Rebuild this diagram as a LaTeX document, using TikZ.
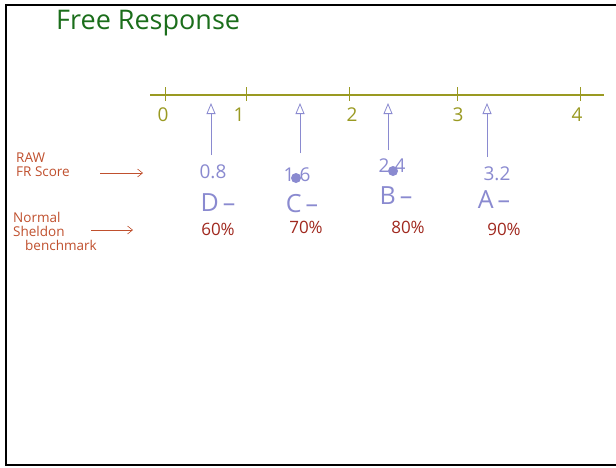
\documentclass[tikz,border=0pt]{standalone}
\usepackage{fontspec}
\setmainfont{Open Sans}
\usetikzlibrary{arrows.meta}
\definecolor{titlegreen}{HTML}{1B6E1B}
\definecolor{olive}{HTML}{9A9A22}
\definecolor{lav}{HTML}{8A8AD0}
\definecolor{pctred}{HTML}{A0281E}
\definecolor{lblred}{HTML}{C0502E}
\tikzset{
  frame/.style={draw=black, line width=2pt},
  axis/.style={draw=olive, line width=1.3pt},
  tick/.style={draw=olive, line width=0.8pt},
  ticklbl/.style={text=olive, font=\fontsize{19}{19}\selectfont, inner sep=0pt},
  uparrow/.style={draw=lav, line width=0.8pt, -{Triangle[open, length=11pt, width=9pt]}},
  val/.style={text=lav, font=\fontsize{19}{19}\selectfont, inner sep=0pt},
  grade/.style={text=lav, font=\fontsize{25}{25}\selectfont, inner sep=0pt},
  pct/.style={text=pctred, font=\fontsize{17}{17}\selectfont, inner sep=0pt},
  lbl/.style={text=lblred, font=\fontsize{13.5}{14}\selectfont, inner sep=0pt, align=left},
  lblarrow/.style={draw=lblred, line width=0.6pt, -{Straight Barb[length=5pt, width=8pt]}},
  dotmark/.style={circle, fill=lav, inner sep=0pt, minimum size=10pt},
}
\begin{document}
\begin{tikzpicture}[x=1pt, y=-1pt]
\useasboundingbox (0,0) rectangle (616,467);
\fill[white] (0,0) rectangle (616,467);
\draw[frame] (616,5) -- (6,5) -- (6,465) -- (616,465);
\node[text=titlegreen, font=\fontsize{27}{27}\selectfont, anchor=west, inner sep=0pt] (title) at (56,23) {Free Response};
% number line
\coordinate (axL) at (150,95);
\coordinate (axR) at (604,95);
\draw[axis] (axL) -- (axR);
\foreach \n/\x/\lx in {0/165/163, 1/246/239, 2/349/352, 3/457/458, 4/580/577}{
  \draw[tick] (\x,87) -- (\x,101);
  \node[ticklbl] (t\n) at (\lx,115) {\n};
}
% up arrows
\foreach \i/\x/\yb in {1/211/155, 2/300/153, 3/388/150, 4/487/157}{
  \coordinate (ab\i) at (\x,\yb);
  \coordinate (at\i) at (\x,103);
  \draw[uparrow] (ab\i) -- (at\i);
}
% raw scores
\node[val] (v1) at (213,172) {0.8};
\node[val] (v2) at (297,175) {1.6};
\node[dotmark] (d2) at (296,178) {};
\node[val] (v3) at (392,166) {2.4};
\node[dotmark] (d3) at (393,171) {};
\node[val] (v4) at (497,174) {3.2};
% grades
\node[grade] (g1) at (218,203) {D\,–};
\node[grade] (g2) at (302,204) {C\,–};
\node[grade] (g3) at (396,196) {B\,–};
\node[grade] (g4) at (494,200) {A\,–};
% percents
\node[pct] (p1) at (218,229) {60\%};
\node[pct] (p2) at (306,227) {70\%};
\node[pct] (p3) at (408,227) {80\%};
\node[pct] (p4) at (504,229) {90\%};
% left labels
\node[lbl, anchor=north west] (raw) at (16,153) {RAW\\FR Score};
\coordinate (rawS) at (100,173);
\coordinate (rawE) at (143,173);
\draw[lblarrow] (rawS) -- (rawE);
\node[lbl, anchor=north west, align=left] (bench) at (13,212) {Normal\\Sheldon\\\hspace*{12pt}benchmark};
\coordinate (benS) at (91,230);
\coordinate (benE) at (133,230);
\draw[lblarrow] (benS) -- (benE);
\end{tikzpicture}
\end{document}
